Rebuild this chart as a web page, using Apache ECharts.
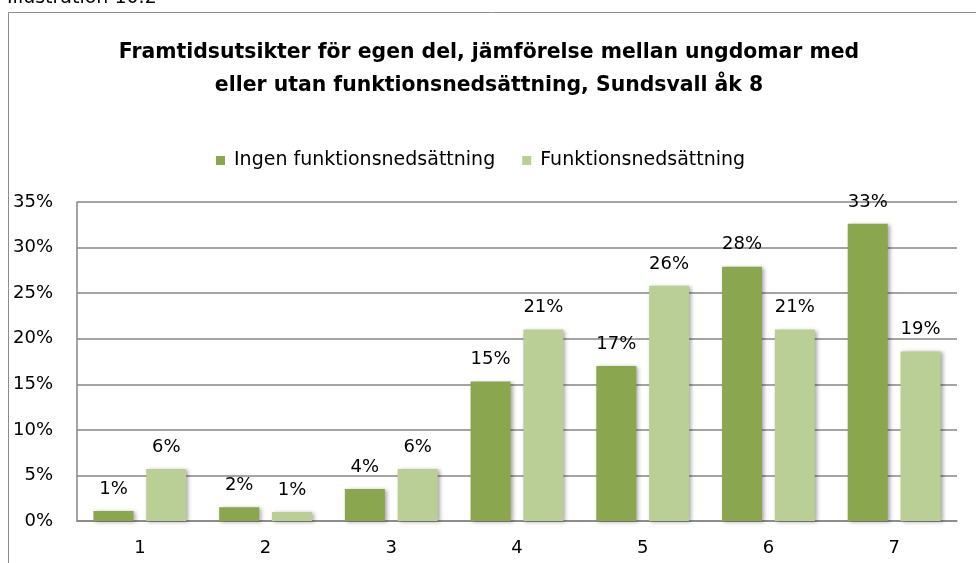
<!DOCTYPE html>
<html>
<head>
<meta charset="utf-8">
<script src="https://cdn.jsdelivr.net/npm/echarts@6/dist/echarts.min.js"></script>
<style>
  html, body { margin: 0; padding: 0; background: #fff; }
  #chart { width: 976px; height: 563px; }
</style>
</head>
<body>
<div id="chart"></div>
<script>
// Answer categories on the 1–7 scale
const categories = ['1', '2', '3', '4', '5', '6', '7'];
// Share of pupils (%) per answer
const ingenFunktionsnedsattning = [1.1, 1.5, 3.5, 15.3, 17.0, 27.9, 32.6];
const funktionsnedsattning = [5.7, 1.0, 5.7, 21.0, 25.8, 21.0, 18.6];
const seriesNames = ['Ingen funktionsnedsättning', 'Funktionsnedsättning'];
const yTicks = { min: 0, max: 35, step: 5 };

const FONT = '"DejaVu Sans", sans-serif';
const chart = echarts.init(document.getElementById('chart'));

const barShadow = {
  shadowColor: 'rgba(0,0,0,0.35)',
  shadowBlur: 4,
  shadowOffsetX: 2,
  shadowOffsetY: 1
};

const label = {
  show: true,
  position: 'top',
  distance: 13,
  color: '#000',
  fontFamily: FONT,
  fontSize: 18,
  formatter: p => Math.round(p.value) + '%'
};

chart.setOption({
  backgroundColor: '#fff',
  animation: false,
  textStyle: { fontFamily: FONT },
  graphic: [
    {
      type: 'rect',
      shape: { x: 8.5, y: 12.5, width: 1000, height: 600 },
      style: { fill: 'none', stroke: '#8c8c8c', lineWidth: 1 },
      silent: true
    },
    {
      type: 'text',
      x: 7,
      y: 8,
      style: {
        text: 'Illustration 10.2',
        font: '19px ' + FONT,
        fill: '#000',
        verticalAlign: 'bottom'
      },
      silent: true
    },
    {
      type: 'text',
      x: 489,
      y: 36,
      style: {
        text: 'Framtidsutsikter för egen del, jämförelse mellan ungdomar med\neller utan funktionsnedsättning, Sundsvall åk 8',
        font: 'bold 20.4px ' + FONT,
        fill: '#000',
        align: 'center',
        verticalAlign: 'top',
        lineHeight: 33
      },
      silent: true
    }
  ],
  legend: {
    data: seriesNames,
    top: 146,
    left: 211,
    itemWidth: 9,
    itemHeight: 9,
    itemGap: 27,
    icon: 'rect',
    textStyle: { fontSize: 19, color: '#000', fontFamily: FONT, padding: [0, 0, 0, 4] }
  },
  grid: { left: 77, right: 19, top: 202, bottom: 42, containLabel: false },
  xAxis: {
    type: 'category',
    data: categories,
    axisLine: { lineStyle: { color: '#868686', width: 1.5 } },
    axisTick: { show: false },
    axisLabel: { color: '#000', fontSize: 18, margin: 18, fontFamily: FONT }
  },
  yAxis: {
    type: 'value',
    min: yTicks.min,
    max: yTicks.max,
    interval: yTicks.step,
    axisLine: { show: true, lineStyle: { color: '#868686', width: 1.5 } },
    axisTick: { show: false },
    splitLine: { lineStyle: { color: '#868686', width: 1.5 } },
    axisLabel: { color: '#000', fontSize: 18, margin: 24, fontFamily: FONT, formatter: '{value}%' }
  },
  series: [
    {
      name: seriesNames[0],
      type: 'bar',
      data: ingenFunktionsnedsattning,
      barWidth: 40,
      barGap: '32%',
      itemStyle: Object.assign({ color: '#8aa64f' }, barShadow),
      label: label
    },
    {
      name: seriesNames[1],
      type: 'bar',
      data: funktionsnedsattning,
      barWidth: 40,
      itemStyle: Object.assign({ color: '#b9cf95' }, barShadow),
      label: label
    }
  ]
});
</script>
</body>
</html>
